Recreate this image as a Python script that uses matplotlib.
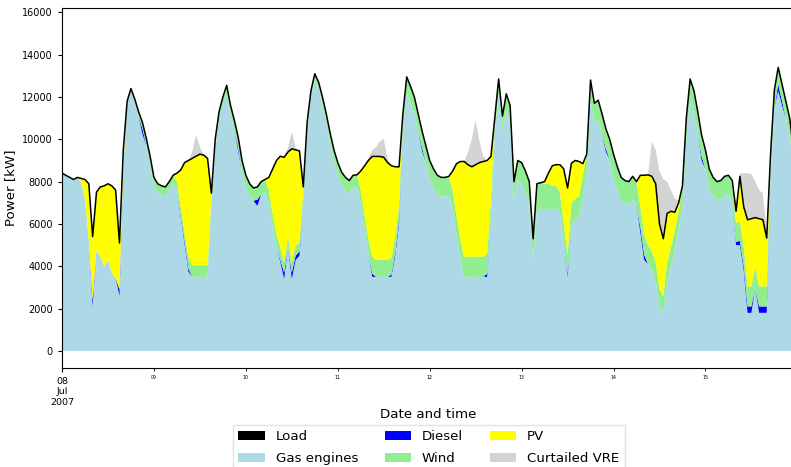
import numpy as np
import pandas as pd
import matplotlib
matplotlib.use("Agg")
import matplotlib.pyplot as plt
from matplotlib.patches import Patch

# hourly dispatch, 8 - 15 Jul 2007 (kW), one row per day
gas = [
    [8400, 8300, 8200, 8100, 8200, 8000, 7150, 5250, 2100, 4780, 4460, 3990, 4300, 3670, 3450, 2600, 8700, 11800, 12350, 11800, 11100, 10250, 9700, 8800],
    [7800, 7500, 7400, 7350, 7600, 7900, 7650, 6350, 5050, 3750, 3500, 3500, 3500, 3500, 3500, 7000, 9500, 11000, 11650, 12150, 11150, 10400, 9450, 8450],
    [7700, 7300, 7100, 6850, 7400, 7500, 7000, 5900, 4900, 4200, 3400, 4900, 3400, 4300, 4500, 7200, 10200, 12000, 12800, 12400, 11600, 10800, 9800, 9000],
    [8300, 7850, 7600, 7450, 7700, 7720, 7000, 5800, 4600, 3500, 3500, 3500, 3500, 3500, 3500, 4500, 6000, 10400, 12150, 11700, 11200, 10400, 9450, 8900],
    [8100, 7700, 7400, 7300, 7300, 7350, 6700, 5500, 4300, 3500, 3500, 3500, 3500, 3500, 3500, 3500, 6300, 10300, 12150, 10400, 11450, 10800, 7100, 8100],
    [7900, 7500, 7000, 4300, 6650, 6700, 6700, 6700, 6700, 6800, 6500, 5200, 3500, 6000, 6200, 6300, 7300, 8400, 11850, 10750, 10900, 10250, 9400, 9050],
    [8200, 7600, 7100, 6950, 6900, 7150, 6900, 5600, 4300, 4100, 3800, 3300, 2100, 1800, 3300, 4000, 4800, 5700, 6800, 10000, 11850, 11300, 10300, 9000],
    [8600, 7700, 7300, 7130, 7180, 7380, 7400, 7000, 5000, 5000, 3800, 1800, 1800, 3000, 1800, 1800, 1800, 8200, 11500, 12300, 11600, 11000, 10200, 8700],
]
diesel = [
    [0, 0, 0, 0, 0, 0, 0, 0, 300, 0, 0, 0, 0, 0, 0, 300, 0, 0, 0, 0, 0, 250, 0, 0],
    [0, 0, 0, 0, 0, 0, 0, 100, 150, 150, 0, 0, 0, 0, 0, 0, 0, 0, 0, 0, 0, 0, 150, 0],
    [0, 0, 0, 300, 0, 0, 0, 0, 0, 100, 300, 0, 300, 200, 200, 0, 0, 0, 0, 0, 0, 0, 0, 0],
    [0, 0, 0, 0, 0, 0, 0, 0, 0, 150, 0, 0, 0, 0, 100, 150, 200, 0, 0, 0, 0, 0, 150, 0],
    [0, 0, 0, 0, 0, 0, 0, 0, 0, 0, 0, 0, 0, 0, 0, 150, 0, 0, 0, 0, 0, 0, 0, 0],
    [0, 0, 0, 0, 0, 0, 0, 0, 0, 0, 0, 0, 150, 0, 0, 0, 0, 0, 0, 0, 0, 0, 150, 0],
    [0, 0, 0, 0, 0, 0, 0, 250, 250, 0, 0, 0, 0, 0, 0, 0, 0, 0, 0, 0, 0, 0, 0, 200],
    [0, 0, 0, 0, 0, 0, 0, 0, 150, 200, 200, 300, 300, 0, 300, 300, 300, 0, 0, 300, 200, 0, 0, 0],
]
wind = [
    [0, 0, 0, 0, 0, 0, 0, 0, 0, 0, 0, 0, 0, 0, 0, 0, 0, 0, 50, 100, 200, 300, 350, 400],
    [400, 400, 400, 400, 400, 400, 350, 350, 400, 550, 550, 550, 550, 550, 550, 250, 250, 300, 350, 400, 450, 500, 500, 550],
    [600, 600, 600, 600, 600, 600, 600, 600, 600, 600, 500, 500, 500, 500, 400, 400, 400, 300, 300, 300, 400, 400, 500, 500],
    [600, 600, 600, 600, 600, 600, 600, 650, 700, 800, 800, 800, 800, 800, 800, 750, 700, 700, 800, 800, 800, 800, 800, 800],
    [900, 900, 900, 900, 900, 900, 900, 900, 950, 950, 950, 950, 950, 950, 950, 950, 900, 700, 700, 700, 700, 800, 900, 900],
    [1000, 1000, 1000, 1000, 1250, 1250, 1200, 1200, 1100, 1000, 1000, 900, 900, 1000, 1000, 1000, 1000, 900, 950, 950, 950, 950, 950, 950],
    [1100, 1100, 1100, 1100, 1100, 1100, 1100, 1000, 1000, 900, 900, 900, 800, 800, 900, 900, 900, 900, 900, 1000, 1000, 1000, 1000, 1000],
    [900, 900, 900, 870, 870, 870, 900, 900, 900, 900, 950, 950, 950, 1000, 950, 950, 950, 900, 840, 800, 800, 800, 800, 800],
]
pv = [
    [0, 0, 0, 0, 0, 150, 950, 2650, 3000, 2720, 3290, 3810, 3600, 4130, 4150, 2200, 800, 0, 0, 0, 0, 0, 0, 0],
    [0, 0, 0, 0, 0, 0, 400, 1750, 3300, 4550, 5050, 5150, 5250, 5200, 5050, 200, 250, 0, 0, 0, 0, 0, 0, 0],
    [0, 0, 0, 0, 0, 0, 600, 2100, 3500, 4300, 4950, 4000, 5350, 4500, 4350, 150, 200, 0, 0, 0, 0, 0, 0, 0],
    [0, 0, 0, 0, 0, 0, 900, 2300, 3700, 4740, 4890, 4890, 4850, 4600, 4350, 3300, 1800, 100, 0, 0, 0, 0, 0, 0],
    [0, 0, 0, 0, 0, 0, 900, 2450, 3700, 4500, 4350, 4250, 4350, 4450, 4500, 4400, 1990, 0, 0, 0, 0, 0, 0, 0],
    [0, 0, 0, 0, 0, 0, 100, 500, 950, 1000, 1300, 2500, 3150, 1870, 1800, 1650, 550, 0, 0, 0, 0, 0, 0, 0],
    [0, 0, 0, 0, 0, 0, 0, 1450, 2750, 3320, 3550, 3700, 3100, 2700, 2300, 1700, 850, 400, 100, 0, 0, 0, 0, 0],
    [0, 0, 0, 0, 0, 0, 0, 150, 550, 2150, 1850, 3150, 3200, 2300, 3200, 3150, 2280, 200, 0, 0, 0, 0, 0, 0],
]
curtailed = [
    [0] * 24,
    [0, 0, 0, 0, 0, 0, 0, 0, 0, 0, 300, 1000, 350, 0, 0, 0, 0, 0, 0, 0, 0, 0, 0, 0],
    [0, 0, 0, 0, 0, 0, 0, 0, 0, 0, 0, 200, 800, 100, 0, 0, 0, 0, 0, 0, 0, 0, 0, 0],
    [0, 0, 0, 0, 0, 0, 0, 0, 100, 300, 450, 700, 870, 200, 0, 0, 0, 0, 0, 0, 0, 0, 0, 0],
    [0, 0, 0, 0, 0, 0, 0, 0, 0, 0, 600, 1300, 2100, 1000, 250, 0, 0, 0, 0, 0, 0, 0, 0, 0],
    [0] * 24,
    [0, 0, 0, 0, 0, 0, 0, 0, 0, 0, 1650, 1600, 2500, 2800, 1500, 1000, 650, 100, 0, 0, 0, 0, 0, 0],
    [0, 0, 0, 0, 0, 0, 0, 0, 400, 150, 1600, 2200, 2100, 1700, 1350, 1250, 400, 0, 0, 0, 0, 0, 0, 0],
]

labels = ["Load", "Gas engines", "Diesel", "Wind", "PV", "Curtailed VRE"]
colors = ["black", "lightblue", "blue", "lightgreen", "yellow", "lightgray"]

gas = np.ravel(gas)
diesel = np.ravel(diesel)
wind = np.ravel(wind)
pv = np.ravel(pv)
curtailed = np.ravel(curtailed)
load = gas + diesel + wind + pv  # demand is met by the dispatched units

times = pd.date_range("2007-07-08", periods=len(gas), freq="h")

fig = plt.figure(figsize=(7.91, 4.67), dpi=100)
ax = fig.add_axes([0.0784, 0.2126, 0.9248, 0.7696])

ax.stackplot(times, gas, diesel, wind, pv, curtailed, colors=colors[1:], linewidth=0)
ax.plot(times, load, color="black", lw=1.1)

ax.set_xlim(times[0], times[-1])
ax.set_ylim(-794, 16190)
ax.set_yticks(range(0, 16001, 2000))
ax.tick_params(axis="y", labelsize=7, length=3)

days = pd.date_range("2007-07-09", "2007-07-15", freq="D")
ax.set_xticks([times[0]], ["08\nJul\n2007"])
ax.set_xticks(days, [d.strftime("%d") for d in days], minor=True)
ax.tick_params(axis="x", which="major", labelsize=6.8, length=3)
ax.tick_params(axis="x", which="minor", labelsize=3.4, length=2)

ax.set_xlabel("Date and time", fontsize=9.6, labelpad=1)
ax.set_ylabel("Power [kW]", fontsize=9.6)

handles = [Patch(facecolor=c) for c in colors]
fig.legend(handles, labels, ncol=3, loc="upper center", bbox_to_anchor=(0.542, 0.105),
           fontsize=9.6, labelspacing=0.7, frameon=True, edgecolor="#dddddd", fancybox=False)

fig.savefig("out.png", dpi=100)
